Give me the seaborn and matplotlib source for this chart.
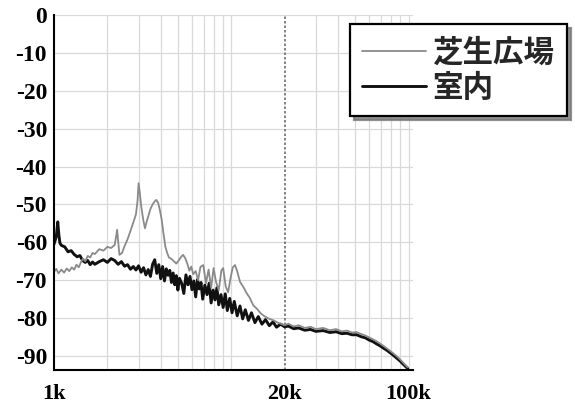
import matplotlib
matplotlib.use("Agg")
import matplotlib.pyplot as plt
import seaborn as sns
import pandas as pd
from matplotlib.ticker import FixedLocator, NullFormatter
from matplotlib.font_manager import FontProperties

# ---------------- data ----------------
series_names = ["芝生広場", "室内"]

lawn_freq = [1000, 1030, 1060, 1100, 1140, 1180, 1220, 1260, 1300, 1340, 1380, 1420,
             1460, 1500, 1550, 1600, 1650, 1700, 1800, 1900, 2000, 2100, 2200, 2240,
             2270, 2300, 2340, 2420, 2500, 2600, 2700, 2800, 2900, 2960, 3000, 3050,
             3100, 3180, 3260, 3330, 3400, 3500, 3600, 3700, 3780, 3870, 3960, 4050,
             4150, 4250, 4350, 4450, 4600, 4750, 4900, 5050, 5200, 5350, 5500, 5650,
             5800, 5950, 6100, 6300, 6500, 6700, 6950, 7200, 7450, 7700, 7950, 8200,
             8500, 8800, 9000, 9300, 9600, 9900, 10200, 10500, 10800, 11200, 11700,
             12200, 12700, 13300, 14000, 14700, 15500, 16400, 17300, 18300, 19300,
             20000, 21000, 22500, 24000, 26000, 28000, 30000, 33000, 36000, 39000,
             42000, 45000, 48000, 51000, 54000, 57000, 60000, 63000, 66000, 69000,
             72000, 75000, 78000, 81000, 84000, 87000, 90000, 93000, 96000, 99000]
lawn_db = [-67.8, -67.0, -68.2, -67.2, -68.0, -66.9, -67.6, -66.6, -67.2, -65.9, -66.6, -65.2,
           -64.3, -65.0, -63.6, -64.0, -62.8, -63.1, -61.8, -62.2, -61.2, -61.5, -60.7, -58.5,
           -56.7, -59.6, -63.3, -62.8, -61.0, -59.2, -57.0, -54.8, -52.6, -49.0, -44.4, -47.0,
           -50.2, -53.8, -56.3, -54.6, -53.2, -51.2, -50.0, -49.2, -48.8, -49.6, -51.6, -54.0,
           -57.8, -61.2, -62.8, -64.0, -64.4, -65.0, -65.6, -64.8, -63.9, -63.3, -64.2, -65.6,
           -67.5, -66.4, -68.4, -67.6, -70.0, -66.5, -66.0, -70.8, -67.2, -72.0, -66.8, -70.4,
           -72.6, -67.4, -66.8, -71.6, -73.2, -69.5, -66.6, -66.0, -67.6, -70.4, -71.8,
           -73.4, -74.6, -76.6, -77.6, -78.8, -79.6, -80.2, -80.6, -81.2, -81.6,
           -81.9, -81.5, -82.2, -81.9, -82.6, -82.3, -82.9, -82.6, -83.2, -82.9,
           -83.5, -83.3, -83.8, -83.7, -84.2, -84.6, -85.1, -85.6, -86.1, -86.7,
           -87.3, -87.9, -88.5, -89.1, -89.7, -90.3, -91.0, -91.7, -92.4, -93.0]

indoor_freq = [1000, 1030, 1050, 1065, 1080, 1100, 1150, 1200, 1250, 1300, 1350, 1400,
               1450, 1500, 1550, 1600, 1650, 1700, 1800, 1900, 2000, 2100, 2200, 2300,
               2400, 2500, 2600, 2700, 2800, 2900, 3000, 3100, 3200, 3300, 3400, 3500,
               3600, 3700, 3800, 3900, 4000, 4100, 4200, 4300, 4400, 4500, 4600, 4700,
               4800, 4900, 5000, 5100, 5250, 5400, 5550, 5700, 5850, 6000, 6150, 6300,
               6450, 6600, 6750, 6900, 7100, 7300, 7500, 7700, 7900, 8100, 8300, 8500,
               8750, 9000, 9250, 9500, 9800, 10100, 10400, 10800, 11200, 11600, 12000,
               12500, 13000, 13600, 14200, 14900, 15600, 16400, 17200, 18000, 19000,
               20000, 21000, 22500, 24000, 26000, 28000, 30000, 33000, 36000, 39000,
               42000, 45000, 48000, 51000, 54000, 57000, 60000, 63000, 66000, 69000,
               72000, 75000, 78000, 81000, 84000, 87000, 90000, 93000, 96000, 99000]
indoor_db = [-60.5, -58.5, -54.6, -58.0, -60.2, -60.8, -61.2, -62.5, -62.2, -63.2, -63.8, -63.5,
             -64.8, -65.3, -64.8, -65.9, -65.2, -65.8, -65.1, -64.6, -65.3, -64.3, -64.8, -65.8,
             -65.1, -66.3, -65.9, -67.1, -66.4, -67.3, -66.2, -67.9, -66.7, -68.6, -67.2, -69.0,
             -65.8, -64.6, -68.2, -65.9, -69.6, -66.4, -70.2, -67.0, -68.7, -67.4, -70.6, -68.1,
             -71.2, -68.8, -72.6, -69.5, -70.8, -73.5, -68.6, -71.2, -69.0, -72.5, -70.2, -74.4,
             -69.8, -72.3, -70.6, -75.0, -71.3, -73.8, -70.8, -76.0, -72.6, -75.2, -72.0, -76.5,
             -73.8, -77.2, -73.6, -78.0, -74.8, -78.6, -75.6, -79.4, -76.8, -80.2, -77.8,
             -80.6, -78.6, -81.2, -79.6, -81.6, -80.4, -82.0, -81.0, -82.4, -81.6,
             -82.3, -82.1, -82.8, -82.6, -83.2, -83.0, -83.5, -83.3, -83.8, -83.6,
             -84.1, -84.0, -84.4, -84.4, -84.9, -85.2, -85.8, -86.2, -86.8, -87.3,
             -87.9, -88.4, -89.0, -89.6, -90.2, -90.8, -91.4, -92.1, -92.7, -93.3]

x_tick_values = [1000, 20000, 100000]
x_tick_labels = ["1k", "20k", "100k"]
y_tick_values = [0, -10, -20, -30, -40, -50, -60, -70, -80, -90]
y_tick_labels = ["0", "-10", "-20", "-30", "-40", "-50", "-60", "-70", "-80", "-90"]

# ---------------- figure ----------------
sns.set_theme(style="white")
plt.rcParams["font.family"] = ["Liberation Serif", "DejaVu Serif"]

W, H = 575, 405
fig = plt.figure(figsize=(W / 100, H / 100), dpi=100)
ax = fig.add_axes([54 / W, 1 - 370 / H, (413 - 54) / W, (370 - 15) / H])

df_lawn = pd.DataFrame({"freq": lawn_freq, "db": lawn_db})
df_indoor = pd.DataFrame({"freq": indoor_freq, "db": indoor_db})

sns.lineplot(data=df_indoor, x="freq", y="db", color="#111111", linewidth=2.1,
             estimator=None, sort=False, ax=ax, label=series_names[1], legend=False)
sns.lineplot(data=df_lawn, x="freq", y="db", color="#8a8a8a", linewidth=1.3,
             estimator=None, sort=False, ax=ax, label=series_names[0], legend=False)

ax.set_xscale("log")
ax.set_xlim(1000, 106000)
ax.set_ylim(-93.7, 0)

ax.xaxis.set_major_locator(FixedLocator(x_tick_values))
ax.set_xticklabels(x_tick_labels)
minor_x = [2000, 3000, 4000, 5000, 6000, 7000, 8000, 9000, 10000,
           30000, 40000, 50000, 60000, 70000, 80000, 90000]
ax.xaxis.set_minor_locator(FixedLocator(minor_x))
ax.xaxis.set_minor_formatter(NullFormatter())
ax.set_yticks(y_tick_values)
ax.set_yticklabels(y_tick_labels)

ax.set_xlabel("")
ax.set_ylabel("")

ax.grid(False)
ax.grid(which="minor", axis="x", color="#d9d9d9", linewidth=0.9)
ax.grid(which="major", axis="y", color="#d9d9d9", linewidth=0.9)
ax.axvline(100000, color="#d9d9d9", linewidth=0.9, zorder=0.5)
ax.axvline(20000, color="#6e6e6e", linewidth=1.2, linestyle=(0, (1.5, 1.2)), zorder=1.5)

for s in ["top", "right"]:
    ax.spines[s].set_visible(False)
for s in ["left", "bottom"]:
    ax.spines[s].set_color("black")
    ax.spines[s].set_linewidth(1.5)

ax.tick_params(axis="x", which="both", direction="in", colors="black", labelsize=16, pad=10)
ax.tick_params(axis="x", which="major", length=4, width=1)
ax.tick_params(axis="x", which="minor", length=3, width=1)
ax.tick_params(axis="y", which="major", direction="in", length=3, width=1,
               labelsize=17, pad=5, colors="black")
for lab in ax.get_xticklabels() + ax.get_yticklabels():
    lab.set_fontweight("bold")

# legend
lines = ax.get_lines()
h_lawn = [l for l in lines if l.get_label() == series_names[0]][0]
h_indoor = [l for l in lines if l.get_label() == series_names[1]][0]
leg_font = FontProperties(family=["Noto Sans CJK JP"], weight="bold", size=22)
leg = fig.legend(handles=[h_lawn, h_indoor], labels=series_names,
                 loc="upper left", bbox_to_anchor=(350 / W, 1 - 24 / H),
                 bbox_transform=fig.transFigure, prop=leg_font,
                 frameon=True, fancybox=False, edgecolor="black",
                 shadow={"ox": 3, "oy": -3, "color": "#777777", "alpha": 0.8},
                 handlelength=2.1, handletextpad=0.2, borderpad=0.4,
                 labelspacing=0.12, borderaxespad=0)
leg.get_frame().set_linewidth(1.6)
leg.get_frame().set_facecolor("white")
leg.get_frame().set_alpha(1)

fig.savefig("out.png", dpi=100)
